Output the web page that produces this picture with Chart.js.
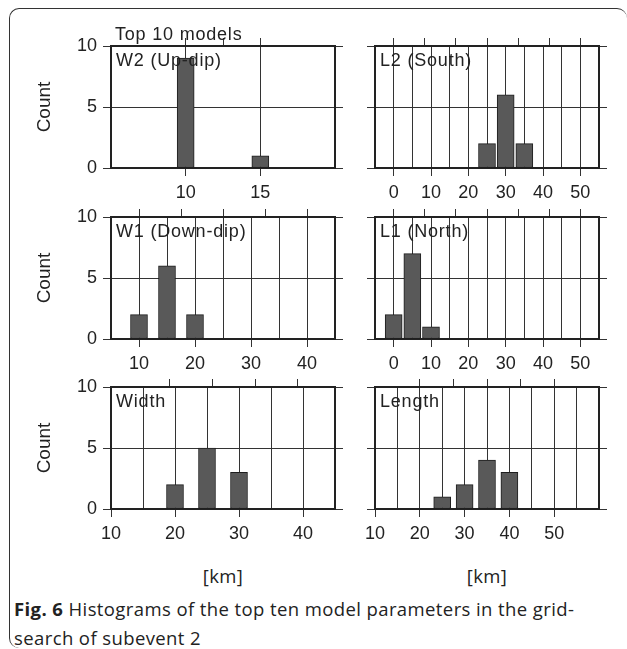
<!DOCTYPE html>
<html>
<head>
<meta charset="utf-8">
<script src="https://cdn.jsdelivr.net/npm/chart.js@4"></script>
<style>
  body { margin: 0; background: #fff; width: 627px; height: 649px; position: relative; overflow: hidden; }
  canvas { position: absolute; }
  .frame {
    position: absolute; left: 9px; top: 8px; width: 618px; height: 640px;
    border-top: 1.5px solid #333; border-left: 1.5px solid #333;
    border-radius: 10px; box-sizing: border-box;
  }
  .unit {
    position: absolute; top: 563px; width: 80px; margin-left: -40px; text-align: center;
    font: 18.5px "Open Sans", sans-serif; letter-spacing: 0.4px; color: #222;
  }
  .caption {
    position: absolute; left: 14px; top: 594px; white-space: nowrap;
    font: 18.5px "Open Sans", sans-serif; letter-spacing: 0.4px; line-height: 29px; color: #222;
  }
  .caption b { font-weight: 700; }
</style>
</head>
<body>
<div class="frame"></div>
<canvas id="w2" width="347" height="186" style="left:0;top:22px"></canvas>
<canvas id="l2" width="256" height="186" style="left:355px;top:22px"></canvas>
<canvas id="w1" width="347" height="186" style="left:0;top:193px"></canvas>
<canvas id="l1" width="256" height="186" style="left:355px;top:193px"></canvas>
<canvas id="width" width="347" height="186" style="left:0;top:363px"></canvas>
<canvas id="length" width="256" height="186" style="left:355px;top:363px"></canvas>
<div class="unit" style="left:223px">[km]</div>
<div class="unit" style="left:487px">[km]</div>
<div class="caption"><b>Fig. 6</b> Histograms of the top ten model parameters in the grid-<br>search of subevent 2</div>

<script>
// Histogram data (bin centre in km, count of models)
const w2Bins = [10, 15];
const w2Counts = [9, 1];
const l2Bins = [25, 30, 35];
const l2Counts = [2, 6, 2];
const w1Bins = [10, 15, 20];
const w1Counts = [2, 6, 2];
const l1Bins = [0, 5, 10];
const l1Counts = [2, 7, 1];
const widthBins = [20, 25, 30];
const widthCounts = [2, 5, 3];
const lengthBins = [25, 30, 35, 40];
const lengthCounts = [1, 2, 4, 3];

// Axis ticks
const countTicks = [0, 5, 10];
const w2Labels = [10, 15];
const lTopLabels = [0, 10, 20, 30, 40, 50];
const w1Labels = [10, 20, 30, 40];
const widthLabels = [10, 20, 30, 40];
const lengthLabels = [10, 20, 30, 40, 50];

const ink = "#222";
const font = { family: "'Liberation Sans', Arial, sans-serif", size: 18 };

// Draws the panel name (and the figure title on the first panel)
const panelText = {
  id: "panelText",
  afterDraw(chart, args, opts) {
    const ctx = chart.ctx;
    const area = chart.chartArea;
    ctx.save();
    ctx.fillStyle = ink;
    ctx.font = "18px 'Liberation Sans', Arial, sans-serif";
    ctx.letterSpacing = "0.8px";
    ctx.textBaseline = "middle";
    ctx.textAlign = "left";
    ctx.fillText(opts.text, area.left + 5, area.top + 15);
    if (opts.title) {
      ctx.fillText(opts.title, area.left + 4, area.top - 11);
    }
    ctx.restore();
  },
};

function makeChart(id, bins, counts, cfg) {
  const ctx = document.getElementById(id);
  const isLeft = cfg.left;

  // grid lines every 5 km between the panel edges
  const gridVals = [];
  for (let v = cfg.min; v <= cfg.max; v += 5) gridVals.push(v);

  return new Chart(ctx, {
    type: "bar",
    data: {
      datasets: [
        {
          data: bins.map((b, i) => ({ x: b, y: counts[i] })),
          backgroundColor: "#595959",
          borderColor: "#1e1e1e",
          borderWidth: 1,
          borderSkipped: false,
          barThickness: 17,
        },
      ],
    },
    options: {
      responsive: false,
      animation: false,
      devicePixelRatio: 1,
      layout: { padding: 0 },
      plugins: {
        legend: { display: false },
        tooltip: { enabled: false },
        panelText: { text: cfg.text, title: cfg.title },
      },
      scales: {
        x: {
          type: "linear",
          position: "bottom",
          min: cfg.min,
          max: cfg.max,
          offset: false,
          afterBuildTicks: (axis) => {
            axis.ticks = gridVals.map((v) => ({ value: v }));
          },
          afterFit: (axis) => {
            axis.height = 40;
          },
          ticks: {
            autoSkip: false,
            maxRotation: 0,
            padding: 6,
            color: ink,
            font: font,
            callback: (v) => (cfg.labels.includes(v) ? String(v) : ""),
          },
          grid: {
            offset: false,
            color: "#333",
            lineWidth: 1,
            tickLength: 8,
            tickColor: (c) =>
              c.tick && cfg.labels.includes(c.tick.value) ? "#333" : "rgba(0,0,0,0)",
          },
          border: { display: true, color: ink, width: 2 },
        },
        xTop: {
          type: "linear",
          position: "top",
          min: cfg.min,
          max: cfg.max,
          afterBuildTicks: (axis) => {
            axis.ticks = cfg.labels
              .filter((v) => v > cfg.min && v < cfg.max)
              .map((v) => ({ value: v }));
          },
          afterFit: (axis) => {
            axis.height = 24;
          },
          ticks: { display: false },
          grid: { drawOnChartArea: false, tickLength: 8, color: "#333" },
          border: { display: true, color: ink, width: 2 },
        },
        y: {
          type: "linear",
          position: "left",
          min: 0,
          max: 10,
          afterBuildTicks: (axis) => {
            axis.ticks = countTicks.map((v) => ({ value: v }));
          },
          afterFit: (axis) => {
            axis.width = isLeft ? 111 : 20;
          },
          ticks: { display: isLeft, padding: 6, color: ink, font: font },
          grid: { color: "#333", lineWidth: 1, tickLength: 8 },
          border: { display: true, color: ink, width: 2 },
          title: {
            display: isLeft,
            text: "Count",
            color: ink,
            font: { family: font.family, size: 19 },
            padding: { top: 33, bottom: 0 },
          },
        },
        yRight: {
          type: "linear",
          position: "right",
          min: 0,
          max: 10,
          afterBuildTicks: (axis) => {
            axis.ticks = countTicks.map((v) => ({ value: v }));
          },
          afterFit: (axis) => {
            axis.width = 12;
          },
          ticks: { display: false },
          grid: { drawOnChartArea: false, tickLength: 8, color: "#333" },
          border: { display: true, color: ink, width: 2 },
        },
      },
    },
    plugins: [panelText],
  });
}

makeChart("w2", w2Bins, w2Counts, {
  left: true, min: 5, max: 20, labels: w2Labels,
  text: "W2 (Up-dip)", title: "Top 10 models",
});
makeChart("l2", l2Bins, l2Counts, {
  left: false, min: -5, max: 55, labels: lTopLabels, text: "L2 (South)",
});
makeChart("w1", w1Bins, w1Counts, {
  left: true, min: 5, max: 45, labels: w1Labels, text: "W1 (Down-dip)",
});
makeChart("l1", l1Bins, l1Counts, {
  left: false, min: -5, max: 55, labels: lTopLabels, text: "L1 (North)",
});
makeChart("width", widthBins, widthCounts, {
  left: true, min: 10, max: 45, labels: widthLabels, text: "Width",
});
makeChart("length", lengthBins, lengthCounts, {
  left: false, min: 10, max: 60, labels: lengthLabels, text: "Length",
});
</script>
</body>
</html>
